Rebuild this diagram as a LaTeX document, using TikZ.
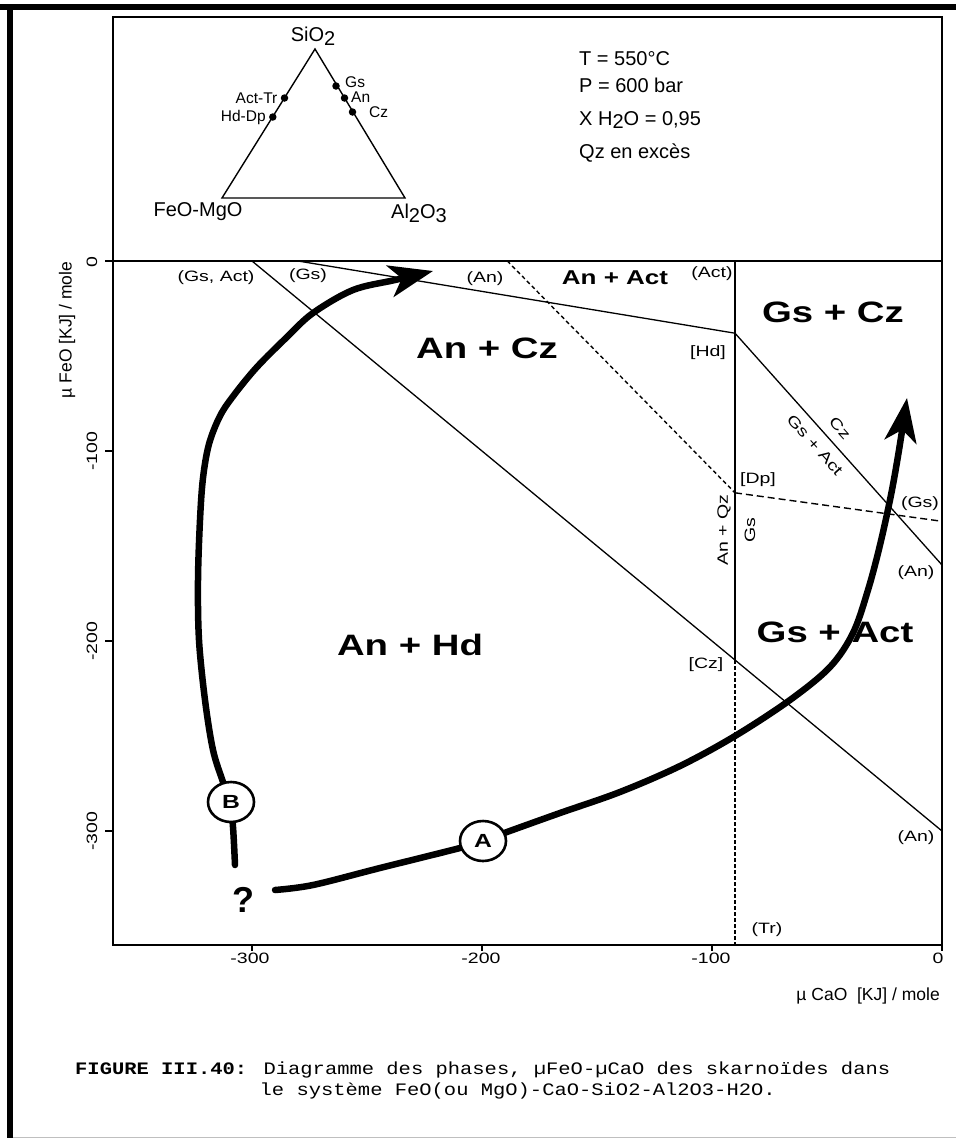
\documentclass[tikz,border=0pt]{standalone}
\usepackage{fontspec}
\setmainfont{Liberation Sans}
\newfontfamily\pf[FakeStretch=1.3]{Liberation Sans}
\newfontfamily\capmono[FakeStretch=1.17]{Liberation Mono}
\usetikzlibrary{arrows.meta,shapes.geometric}
\newcommand\lowr[1]{\raisebox{-0.35ex}{#1}}
\begin{document}
\begin{tikzpicture}[x=1pt,y=-1pt,
  frame/.style={line width=1.6pt},
  bnd/.style={line width=1.3pt},
  dashA/.style={line width=1.4pt, dash pattern=on 4pt off 3pt},
  dashB/.style={line width=1.4pt, dash pattern=on 7pt off 4pt},
  dotv/.style={line width=1.4pt, dash pattern=on 3.5pt off 2.5pt},
  pathcurve/.style={line width=6.5pt, line cap=round, -{Stealth[length=44pt,width=32pt,inset=12pt]}},
  dot/.style={circle, fill=black, inner sep=0pt, minimum size=7.5pt},
  tri/.style={font=\fontsize{20}{20}\selectfont, inner sep=0pt},
  trs/.style={font=\fontsize{15.5}{16}\selectfont, inner sep=0pt},
  par/.style={font=\fontsize{20}{20}\selectfont, inner sep=0pt, anchor=west},
  lab/.style={font=\pf\fontsize{15}{15}\selectfont, inner sep=0pt},
  big/.style={font=\pf\bfseries\fontsize{29.5}{30}\selectfont, inner sep=0pt},
  mid/.style={font=\pf\bfseries\fontsize{20}{20}\selectfont, inner sep=0pt},
  tick/.style={font=\pf\fontsize{15}{15}\selectfont, inner sep=0pt},
  axt/.style={font=\fontsize{17.5}{18}\selectfont, inner sep=0pt},
  ring/.style={ellipse, draw, line width=2.6pt, fill=white, minimum width=46pt, minimum height=40pt, inner sep=0pt, font=\pf\bfseries\fontsize{19}{19}\selectfont},
  capt/.style={font=\capmono\fontsize{17.5}{18}\selectfont, inner sep=0pt, anchor=base west}
]
\useasboundingbox (0,0) rectangle (956,1138);
\fill[white] (0,0) rectangle (956,1138);
% page borders
\fill[black] (0,4) rectangle (956,9.5);
\fill[black] (6.5,4) rectangle (13,1138);
\draw[black!25, line width=1pt] (13,1137) -- (956,1137);

% frames
\draw[frame] (113,17) rectangle (942,945);
\draw[frame] (113,261) -- (942,261);

% ---------- ternary triangle ----------
\coordinate (apex) at (315,49);
\coordinate (tl) at (222,198);
\coordinate (tr) at (405,198);
\draw[line width=1.4pt] (apex) -- (tl) -- (tr) -- cycle;
\node[dot] (dAct) at (284.5,98) {};
\node[dot] (dHd) at (272.8,117) {};
\node[dot] (dGs) at (336,86) {};
\node[dot] (dAn) at (344.5,98) {};
\node[dot] (dCz) at (352.5,112) {};
\node[tri] (lSi) at (313,36) {SiO\lowr{2}};
\node[tri] (lFe) at (198,212) {FeO-MgO};
\node[tri] (lAl) at (419,213) {Al\lowr{2}O\lowr{3}};
\node[trs, anchor=east] (lAct) at (dAct.west) [xshift=-3pt] {Act-Tr};
\node[trs, anchor=east] (lHd) at (dHd.west) [xshift=-3pt] {Hd-Dp};
\node[trs, anchor=west] (lGs) at (345,82) {Gs};
\node[trs, anchor=west] (lAn) at (351,97) {An};
\node[trs, anchor=west] (lCz) at (369,112) {Cz};

% ---------- conditions ----------
\node[par] (pT) at (579,59) {T = 550°C};
\node[par] (pP) at (579,85) {P = 600 bar};
\node[par] (pX) at (579,120) {X H\lowr{2}O = 0,95};
\node[par] (pQ) at (579,153) {Qz en excès};

% ---------- phase boundaries (data coordinates) ----------
\begin{scope}[shift={(942pt,-261pt)}, x=2.3pt, y=1.9pt]
  \coordinate (gsact) at (-300,0);
  \coordinate (anlow) at (0,-300);
  \coordinate (gstop) at (-280,0);
  \coordinate (hd) at (-90,-38);
  \coordinate (anup) at (0,-160);
  \coordinate (act) at (-90,0);
  \coordinate (cz) at (-90,-210);
  \coordinate (trb) at (-90,-360);
  \coordinate (antop) at (-189,0);
  \coordinate (dp) at (-90,-122);
  \coordinate (gsr) at (0,-137);
  \draw[bnd] (gsact) -- (anlow);
  \draw[bnd] (gstop) -- (hd) -- (anup);
  \draw[bnd] (act) -- (cz);
  \draw[dotv] (cz) -- (trb);
  \draw[dashA] (antop) -- (dp);
  \draw[dashB] (dp) -- (gsr);
  \foreach \v in {0,-100,-200,-300} \draw[frame] (-360,\v) -- ++(-3.8,0);
  \foreach \u in {-300,-200,-100,0} \draw[frame] (\u,-360) -- ++(0,-3.2);
\end{scope}

% ---------- labels in the plot ----------
\node[lab] (l1) at (216,278) {(Gs, Act)};
\node[lab] (l2) at (308,276) {(Gs)};
\node[lab] (l3) at (485,279) {(An)};
\node[mid] (l4) at (615,278) {An + Act};
\node[lab] (l5) at (712,274) {(Act)};
\node[big] (l6) at (833,312) {Gs + Cz};
\node[lab] (l7) at (708,353) {[Hd]};
\node[big] (l8) at (487,348) {An + Cz};
\node[lab, rotate=-48] (l9) at (840,428) {Cz};
\node[lab, rotate=-48] (l10) at (815,445) {Gs + Act};
\node[lab] (l11) at (758,480) {[Dp]};
\node[lab] (l12) at (920,504) {(Gs)};
\node[lab, rotate=90] (l13) at (724,530) {An + Qz};
\node[lab, rotate=90] (l14) at (750,530) {Gs};
\node[lab] (l15) at (916,573) {(An)};
\node[big] (l16) at (835,632) {Gs + Act};
\node[big] (l17) at (410,645) {An + Hd};
\node[lab] (l18) at (706,665) {[Cz]};
\node[lab] (l19) at (916,838) {(An)};
\node[lab] (l20) at (767,930) {(Tr)};

% ---------- reaction paths ----------
\draw[pathcurve] plot[smooth, tension=0.55] coordinates {
  (275,890) (313,885) (380,868) (460,848) (483,841) (507,832) (560,813)
  (620,792) (680,766) (735,736) (790,700) (830,667) (853,633) (868,590)
  (880,545) (891,495) (899,450) (907,398)};
\draw[pathcurve] plot[smooth, tension=0.55] coordinates {
  (235,865) (233,827) (230,802) (223,782) (213,750) (205,700) (199,640)
  (198,580) (200,520) (203,478) (209,444) (220,416) (234,395) (257,367)
  (287,337) (313,313) (353,290) (395,280) (433,271)};
\node[ring] (cA) at (483,841) {A};
\node[ring] (cB) at (231,802) {B};
\node[font=\bfseries\fontsize{36}{36}\selectfont, inner sep=0pt] (q) at (243,900) {?};

% ---------- axes ----------
\node[tick, rotate=90] (y0) at (92,262) {0};
\node[tick, rotate=90] (y1) at (92,451) {-100};
\node[tick, rotate=90] (y2) at (92,641) {-200};
\node[tick, rotate=90] (y3) at (92,831) {-300};
\node[tick] (x3) at (250,958) {-300};
\node[tick] (x2) at (481,958) {-200};
\node[tick] (x1) at (711,958) {-100};
\node[tick] (x0) at (938,958) {0};
\node[axt, rotate=90] (ytitle) at (67,330) {µ FeO [KJ] / mole};
\node[axt, anchor=east] (xtitle) at (940,996) {µ CaO\ \ [KJ] / mole};

% ---------- caption ----------
\node[capt] (cap1) at (75,1074) {\textbf{FIGURE III.40:} Diagramme des phases, µFeO-µCaO des skarnoïdes dans};
\node[capt] (cap2) at (259.5,1095) {le système FeO(ou MgO)-CaO-SiO2-Al2O3-H2O.};
\end{tikzpicture}
\end{document}
